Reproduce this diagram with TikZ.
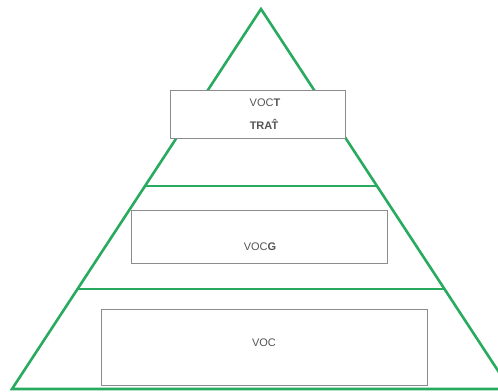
\documentclass[tikz,border=0pt]{standalone}
\usepackage{fontspec}
\setmainfont{Liberation Sans}
\definecolor{pyrgreen}{RGB}{40,170,95}
\definecolor{boxgray}{RGB}{140,140,140}
\definecolor{txtgray}{RGB}{85,85,85}
\begin{document}
\begin{tikzpicture}[x=1pt,y=-1pt,
  layer/.style={draw=pyrgreen,line width=2.6pt},
  tierbox/.style={draw=boxgray,line width=1pt,fill=white,rectangle,inner sep=0pt},
  lbl/.style={text=txtgray,font=\fontsize{11}{13}\selectfont,inner sep=0pt}]
\useasboundingbox (0,0) rectangle (498,391);
\begin{scope}
\clip (0,0) rectangle (498,391);
\coordinate (apex) at (261,9);
\coordinate (bl) at (12,389);
\coordinate (br) at (510,389);
\draw[layer,line join=miter] (bl) -- (apex) -- (br) -- cycle;
\coordinate (l1) at (145,186);
\coordinate (r1) at (377,186);
\coordinate (l2) at (78,289);
\coordinate (r2) at (444,289);
\draw[layer] (l1) -- (r1);
\draw[layer] (l2) -- (r2);
\end{scope}
\node[tierbox,minimum width=175pt,minimum height=48pt] (top) at (258,114) {};
\node[tierbox,minimum width=256pt,minimum height=53pt] (mid) at (259,236.5) {};
\node[tierbox,minimum width=326pt,minimum height=76pt] (bot) at (264,347) {};
\node[lbl] (t1) at (265,103) {VOC\textbf{T}};
\node[lbl] (t2) at (265,124) {\textbf{TRA\^T}};
\node[lbl] (m1) at (260,247) {VOC\textbf{G}};
\node[lbl] (b1) at (264,343) {VOC};
\end{tikzpicture}
\end{document}
